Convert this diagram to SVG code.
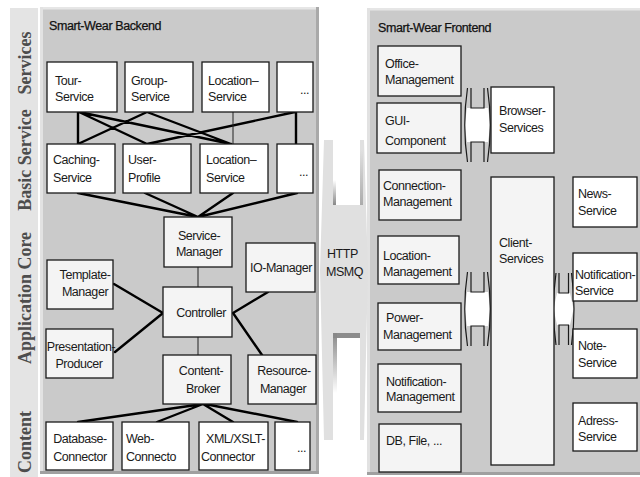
<svg xmlns="http://www.w3.org/2000/svg" width="640" height="477" viewBox="0 0 640 477">
<style>
.b{fill:#fff;stroke:#1a1a1a;stroke-width:1.3}
.d{fill:#f4f4f4;stroke:#1a1a1a;stroke-width:1.3}
.t{font-family:"Liberation Sans",Arial,sans-serif;font-size:12.5px;letter-spacing:-0.45px;fill:#1a1a1a}
.c{text-anchor:middle}
.k{stroke:#000;stroke-width:2.4;fill:none;stroke-linecap:round}
.th{stroke:#222;stroke-width:1;fill:none}
.lab{font-family:"Liberation Serif","Times New Roman",serif;font-weight:bold;font-size:18px;fill:#4d4d4d;text-anchor:middle}
.ttl{font-family:"Liberation Sans",Arial,sans-serif;font-size:12.5px;letter-spacing:-0.4px;fill:#111;stroke:#111;stroke-width:0.25}
.ar{fill:none;stroke:#1a1a1a;stroke-width:1.2}
</style>
<defs>
<linearGradient id="shd" x1="0" y1="0" x2="0" y2="1"><stop offset="0" stop-color="#888"/><stop offset="1" stop-color="#888" stop-opacity="0"/></linearGradient>
<linearGradient id="shu" x1="0" y1="1" x2="0" y2="0"><stop offset="0" stop-color="#888"/><stop offset="1" stop-color="#888" stop-opacity="0"/></linearGradient>
<g id="dblarrow">
<polygon points="467,108 488,108 490.5,125 488,142 467,142 464.5,125" fill="#fff"/>
<path class="ar" d="M467.5,88 Q462,125 467.5,162 M471,88 V108 H484 V88 M471,162 V142 H484 V162 M487.5,88 Q493,125 487.5,162"/>
</g>
</defs>
<rect width="640" height="477" fill="#fff"/>
<!-- layer label column -->
<g id="layer-labels">
<rect x="10" y="8" width="28" height="469" fill="#e4e4e4"/>
<text class="lab" transform="translate(31,63) rotate(-90)">Services</text>
<text class="lab" transform="translate(31,160) rotate(-90)">Basic Service</text>
<text class="lab" transform="translate(31,298) rotate(-90)">Application Core</text>
<text class="lab" transform="translate(31,442) rotate(-90)">Content</text>
</g>
<!-- backend panel -->
<g id="backend">
<rect x="40" y="7" width="279" height="467" fill="#cacaca"/>
<rect x="40" y="7" width="279" height="2.5" fill="#e6e6e6"/>
<rect x="40" y="7" width="3" height="467" fill="#e2e2e2"/>
<rect x="316" y="7" width="3" height="467" fill="#a9a9a9"/>
<rect x="40" y="471" width="279" height="3" fill="#a0a0a0"/>
<text class="ttl" x="49" y="30">Smart-Wear Backend</text>
</g>
<!-- frontend panel -->
<g id="frontend">
<rect x="367" y="8" width="273" height="467" fill="#cacaca"/>
<rect x="367" y="8" width="273" height="2.5" fill="#e6e6e6"/>
<rect x="367" y="8" width="3" height="467" fill="#e2e2e2"/>
<rect x="367" y="472" width="273" height="3" fill="#a0a0a0"/>
<text class="ttl" x="378" y="32">Smart-Wear Frontend</text>
</g>
<!-- HTTP / MSMQ transport -->
<g id="http-msmq">
<path d="M324,140 L333,140 L333,205 L360,205 L360,140 L364,140 L368,270 L364,440 L360,440 L360,333 L333,333 L333,440 L324,440 L320,270 Z" fill="#e0e0e0"/>
<rect x="333" y="180" width="3" height="25" fill="url(#shu)"/>
<rect x="360" y="150" width="3" height="55" fill="url(#shu)" opacity="0.6"/>
<rect x="333" y="333" width="27" height="5" fill="#8c8c8c"/>
<rect x="333" y="333" width="4" height="60" fill="url(#shd)"/>
<text class="t" x="327" y="258">HTTP</text>
<text class="t" x="326" y="276">MSMQ</text>
</g>
<!-- connectors -->
<g id="connectors">
<path class="k" d="M78,112 V144 M79,112 L147,144 M79,112 L231,144 M147,112 L78,144 M147,112 L231,144 M295,112 L147,144 M296,112 V144"/>
<path class="th" d="M233,112 V144"/>
<path class="k" d="M78,193 L198,217 M145,193 L198,217 M233,193 L198,217 M297,193 L198,217"/>
<path class="th" d="M198,267 V287 M198,337 V355"/>
<path class="k" d="M114,284 L163,313 M115,352 L163,313 M268,292 L233,313 M262,355 L233,313"/>
<path class="k" d="M203,404 L78,422 M203,404 L157,422 M203,404 L233,422 M205,404 L297,422"/>
<use href="#dblarrow"/>
<use href="#dblarrow" transform="translate(0,184)"/>
<polygon points="557,293 570,293 573.5,309 570,325 557,325 553.5,309" fill="#fff"/>
<path class="ar" d="M556,273 Q551,309 556,345 M559,273 V293 H568.5 V273 M559,345 V325 H568.5 V345 M571.5,273 Q576.5,309 571.5,345"/>
</g>
<!-- backend nodes -->
<g id="tour-service"><rect class="b" x="47" y="62" width="70" height="50"/><text class="t" x="55" y="85">Tour-<tspan x="55" y="101">Service</tspan></text></g>
<g id="group-service"><rect class="b" x="125" y="62" width="68" height="50"/><text class="t" x="131" y="85">Group-<tspan x="131" y="101">Service</tspan></text></g>
<g id="location-service"><rect class="b" x="202" y="62" width="67" height="50"/><text class="t" x="208" y="85">Location–<tspan x="208" y="101">Service</tspan></text></g>
<g id="more-services"><rect class="b" x="277" y="62" width="36" height="50"/><text class="t" x="300" y="94">...</text></g>
<g id="caching-service"><rect class="b" x="47" y="144" width="68" height="49"/><text class="t" x="53" y="164">Caching-<tspan x="53" y="182">Service</tspan></text></g>
<g id="user-profile"><rect class="b" x="123" y="144" width="68" height="49"/><text class="t" x="128" y="164">User-<tspan x="128" y="182">Profile</tspan></text></g>
<g id="location-basic"><rect class="b" x="200" y="144" width="68" height="49"/><text class="t" x="206" y="164">Location–<tspan x="206" y="182">Service</tspan></text></g>
<g id="more-basic"><rect class="b" x="277" y="144" width="36" height="49"/><text class="t" x="299" y="176">...</text></g>
<g id="service-manager"><rect class="d" x="164" y="217" width="68" height="50"/><text class="t c" x="199" y="240">Service-<tspan x="199" y="256">Manager</tspan></text></g>
<g id="io-manager"><rect class="d" x="246" y="243" width="69" height="49"/><text class="t c" x="281" y="272">IO-Manager</text></g>
<g id="template-manager"><rect class="d" x="47" y="260" width="66" height="49"/><text class="t c" x="85" y="279">Template-<tspan x="85" y="296">Manager</tspan></text></g>
<g id="controller"><rect class="d" x="163" y="287" width="69" height="50"/><text class="t c" x="201" y="317">Controller</text></g>
<g id="presentation-producer"><rect class="d" x="46" y="329" width="67" height="49"/><text class="t c" x="81" y="351">Presentation-<tspan x="79" y="368">Producer</tspan></text></g>
<g id="content-broker"><rect class="d" x="163" y="355" width="68" height="49"/><text class="t c" x="201" y="375">Content-<tspan x="203" y="393">Broker</tspan></text></g>
<g id="resource-manager"><rect class="d" x="248" y="355" width="68" height="49"/><text class="t c" x="284" y="375">Resource-<tspan x="283" y="393">Manager</tspan></text></g>
<g id="database-connector"><rect class="b" x="46" y="422" width="67" height="48"/><text class="t c" x="80" y="443">Database-<tspan x="80" y="461">Connector</tspan></text></g>
<g id="web-connector"><rect class="b" x="122" y="422" width="67" height="48"/><text class="t" x="126" y="443">Web-<tspan x="126" y="461">Connecto</tspan></text></g>
<g id="xml-connector"><rect class="b" x="199" y="422" width="69" height="48"/><text class="t" x="206" y="443">XML/XSLT-<tspan x="201" y="461">Connector</tspan></text></g>
<g id="more-content"><rect class="b" x="275" y="422" width="35" height="48"/><text class="t" x="297" y="452">...</text></g>
<!-- frontend nodes -->
<g id="office-management"><rect class="d" x="378" y="46" width="83" height="50"/><text class="t" x="385" y="68">Office-<tspan x="385" y="84">Management</tspan></text></g>
<g id="gui-component"><rect class="d" x="377" y="103" width="84" height="50"/><text class="t" x="385" y="125">GUI-<tspan x="385" y="145">Component</tspan></text></g>
<g id="browser-services"><rect class="b" x="491" y="87" width="63" height="66"/><text class="t" x="499" y="115">Browser-<tspan x="499" y="132">Services</tspan></text></g>
<g id="connection-management"><rect class="d" x="379" y="170" width="82" height="50"/><text class="t" x="383" y="190">Connection-<tspan x="383" y="206">Management</tspan></text></g>
<g id="location-management"><rect class="d" x="378" y="236" width="81" height="48"/><text class="t" x="383" y="260">Location-<tspan x="383" y="276">Management</tspan></text></g>
<g id="power-management"><rect class="d" x="378" y="303" width="83" height="47"/><text class="t" x="386" y="322">Power-<tspan x="383" y="339">Management</tspan></text></g>
<g id="notification-management"><rect class="d" x="378" y="364" width="83" height="48"/><text class="t" x="386" y="386">Notification-<tspan x="386" y="401">Management</tspan></text></g>
<g id="db-file"><rect class="d" x="379" y="424" width="82" height="48"/><text class="t" x="386" y="445">DB, File, ...</text></g>
<g id="client-services"><rect class="d" x="491" y="177" width="63" height="288"/><text class="t" x="499" y="247">Client-<tspan x="499" y="263">Services</tspan></text></g>
<g id="news-service"><rect class="b" x="573" y="177" width="64" height="50"/><text class="t" x="578" y="198">News-<tspan x="578" y="215">Service</tspan></text></g>
<g id="notification-service"><rect class="b" x="573" y="253" width="64" height="48"/><text class="t" x="575" y="279">Notification-<tspan x="575" y="295">Service</tspan></text></g>
<g id="note-service"><rect class="b" x="573" y="329" width="64" height="49"/><text class="t" x="578" y="350">Note-<tspan x="578" y="367">Service</tspan></text></g>
<g id="adress-service"><rect class="b" x="573" y="403" width="64" height="48"/><text class="t" x="578" y="425">Adress-<tspan x="578" y="441">Service</tspan></text></g>
</svg>
